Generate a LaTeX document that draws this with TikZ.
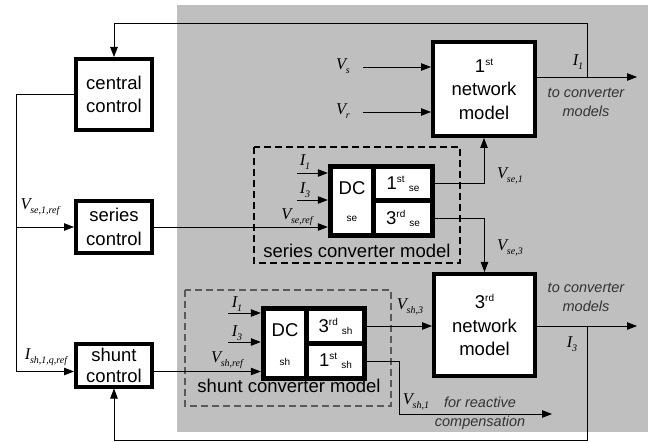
\documentclass[tikz,border=0pt]{standalone}
\usepackage{fontspec}
\setmainfont{Liberation Sans}
\newfontfamily\tm{Liberation Serif}
\usetikzlibrary{arrows.meta}
\newcommand{\mlab}[2]{{\tm\fontsize{16.5}{16.5}\selectfont\itshape #1\kern-0.3pt\raisebox{-3.5pt}{\fontsize{10}{10}\selectfont #2}}}
\newcommand{\supx}[1]{\raisebox{7pt}{\fontsize{10}{10}\selectfont #1}}
\newcommand{\subx}[1]{\raisebox{-2pt}{\fontsize{10}{10}\selectfont #1}}
\tikzset{
  ctrl/.style={draw, line width=4pt, fill=white, inner sep=0pt, align=center,
    font=\fontsize{18.5}{23.5}\selectfont},
  conv/.style={fill=black, inner sep=0pt},
  sub/.style={fill=white, inner sep=0pt, font=\fontsize{18.5}{22}\selectfont},
  wire/.style={line width=0.8pt},
  arr/.style={wire, -{Triangle[length=10pt,width=7.5pt]}},
  lab/.style={inner sep=0pt},
  note/.style={inner sep=0pt, font=\fontsize{14.5}{19}\selectfont\itshape, text=black!80, align=center},
  captxt/.style={inner sep=0pt, font=\fontsize{18.5}{22}\selectfont},
  smallt/.style={inner sep=0pt, font=\fontsize{10}{10}\selectfont}
}
\begin{document}
\begin{tikzpicture}[x=1pt,y=-1pt]
\useasboundingbox (0,0) rectangle (655,443);
\fill[gray!50] (177,5) rectangle (648,432);
% dashed frames
\draw[line width=1.1pt, dash pattern=on 7pt off 4pt] (254,147) rectangle (460,263);
\draw[line width=1.1pt, black!65, dash pattern=on 7pt off 4pt] (185,290) rectangle (391,406);
% control boxes
\node[ctrl, minimum width=76pt, minimum height=71pt] (cc) at (114,94.5) {central\\control};
\node[ctrl, minimum width=76pt, minimum height=52pt] (sc) at (114,227) {series\\control};
\node[ctrl, minimum width=76pt, minimum height=43pt, font=\fontsize{18.5}{22}\selectfont] (shc) at (114,365) {shunt\\[-1pt]control};
% network models
\node[ctrl, minimum width=102pt, minimum height=94pt] (nm1) at (484,89) {1\supx{st}\\network\\model};
\node[ctrl, minimum width=101pt, minimum height=102pt] (nm3) at (484.5,325) {3\supx{rd}\\network\\model};
% series converter
\node[conv, minimum width=107pt, minimum height=74pt] (scv) at (381.5,201) {};
\node[sub, minimum width=38pt, minimum height=64pt] (sdc) at (352,201) {};
\node[captxt] (sdct) at (352,188) {DC};
\node[smallt] (sdcs) at (352,219) {se};
\node[sub, minimum width=54pt, minimum height=29.5pt] (s1) at (403,183.75) {1\supx{st}\hspace{4pt}\subx{se}};
\node[sub, minimum width=54pt, minimum height=29.5pt] (s3) at (403,218.25) {3\supx{rd}\hspace{4pt}\subx{se}};
\node[captxt] (sct) at (357,251) {series converter model};
% shunt converter
\node[conv, minimum width=106pt, minimum height=75pt] (shcv) at (314,343.5) {};
\node[sub, minimum width=38pt, minimum height=65pt] (hdc) at (285,343.5) {};
\node[captxt] (hdct) at (285,330) {DC};
\node[smallt] (hdcs) at (285,362) {sh};
\node[sub, minimum width=53pt, minimum height=30pt] (h3) at (335.5,326) {3\supx{rd}\hspace{4pt}\subx{sh}};
\node[sub, minimum width=53pt, minimum height=30pt] (h1) at (335.5,361) {1\supx{st}\hspace{4pt}\subx{sh}};
\node[captxt] (hct) at (289,386) {shunt converter model};
% coordinates
\coordinate (lx) at (16,0);
\coordinate (shin) at (16,371.5);
\coordinate (fb1) at (587,23);
\coordinate (j1) at (587,77);
\coordinate (o1) at (637,77);
\coordinate (j3) at (587,326);
\coordinate (o3) at (637,326);
\coordinate (fb3) at (587,440);
\coordinate (vs) at (363,67);
\coordinate (vr) at (363,112);
\coordinate (si1) at (297,173);
\coordinate (si3) at (297,200);
\coordinate (hi1) at (228,313);
\coordinate (hi3) at (228,342);
\coordinate (hbend) at (399,361);
\coordinate (hend) at (552,414);
% left distribution
\draw[arr] (cc.west) -| (shin) -- (shin -| shc.west);
\draw[arr] (lx |- sc.west) -- (sc.west);
\draw[arr] (sc.east) -- (sc.east -| scv.west);
\draw[arr] (shc.east |- shin) -- (shcv.west |- shin);
% feedbacks
\draw[arr] (j1) -- (fb1) -| (cc.north);
\draw[arr] (j3) -- (fb3) -| (shc.south);
% network inputs/outputs
\draw[arr] (vs) -- (vs -| nm1.west);
\draw[arr] (vr) -- (vr -| nm1.west);
\draw[arr] (nm1.east |- o1) -- (o1);
\draw[arr] (nm3.east |- o3) -- (o3);
% converter inputs
\draw[arr] (si1) -- (si1 -| scv.west);
\draw[arr] (si3) -- (si3 -| scv.west);
\draw[arr] (hi1) -- (hi1 -| shcv.west);
\draw[arr] (hi3) -- (hi3 -| shcv.west);
% converter outputs
\draw[arr] (s1.east -| scv.east) -| (nm1.south);
\draw[arr] (s3.east -| scv.east) -| (nm3.north);
\draw[arr] (h3.east -| shcv.east) -- (h3.east -| nm3.west);
\draw[arr] (h1.east -| shcv.east) -- (hbend) |- (hend);
% labels
\node[lab] (lvse1ref) at (40,207) {\mlab{V}{se,1,ref}};
\node[lab] (lish) at (46,357) {\mlab{I}{sh,1,q,ref}};
\node[lab] (lvs) at (343,66) {\mlab{V}{s}};
\node[lab] (lvr) at (343,111) {\mlab{V}{r}};
\node[lab] (li1) at (578,62) {\mlab{I}{1}};
\node[note] (n1) at (586,102) {to converter\\models};
\node[lab] (lvse1) at (510,176) {\mlab{V}{se,1}};
\node[lab] (lvse3) at (510,248) {\mlab{V}{se,3}};
\node[note] (n3) at (586,297) {to converter\\models};
\node[lab] (li3) at (572,344) {\mlab{I}{3}};
\node[lab] (lvsh3) at (410,307) {\mlab{V}{sh,3}};
\node[lab] (lvsh1) at (416,402) {\mlab{V}{sh,1}};
\node[note] (n4) at (480,413) {for reactive\\compensation};
\node[lab] (lsi1) at (305,162) {\mlab{I}{1}};
\node[lab] (lsi3) at (305,190) {\mlab{I}{3}};
\node[lab] (lsvref) at (297,217) {\mlab{V}{se,ref}};
\node[lab] (lhi1) at (237,304) {\mlab{I}{1}};
\node[lab] (lhi3) at (237,333) {\mlab{I}{3}};
\node[lab] (lhvref) at (227,360) {\mlab{V}{sh,ref}};
\end{tikzpicture}
\end{document}
